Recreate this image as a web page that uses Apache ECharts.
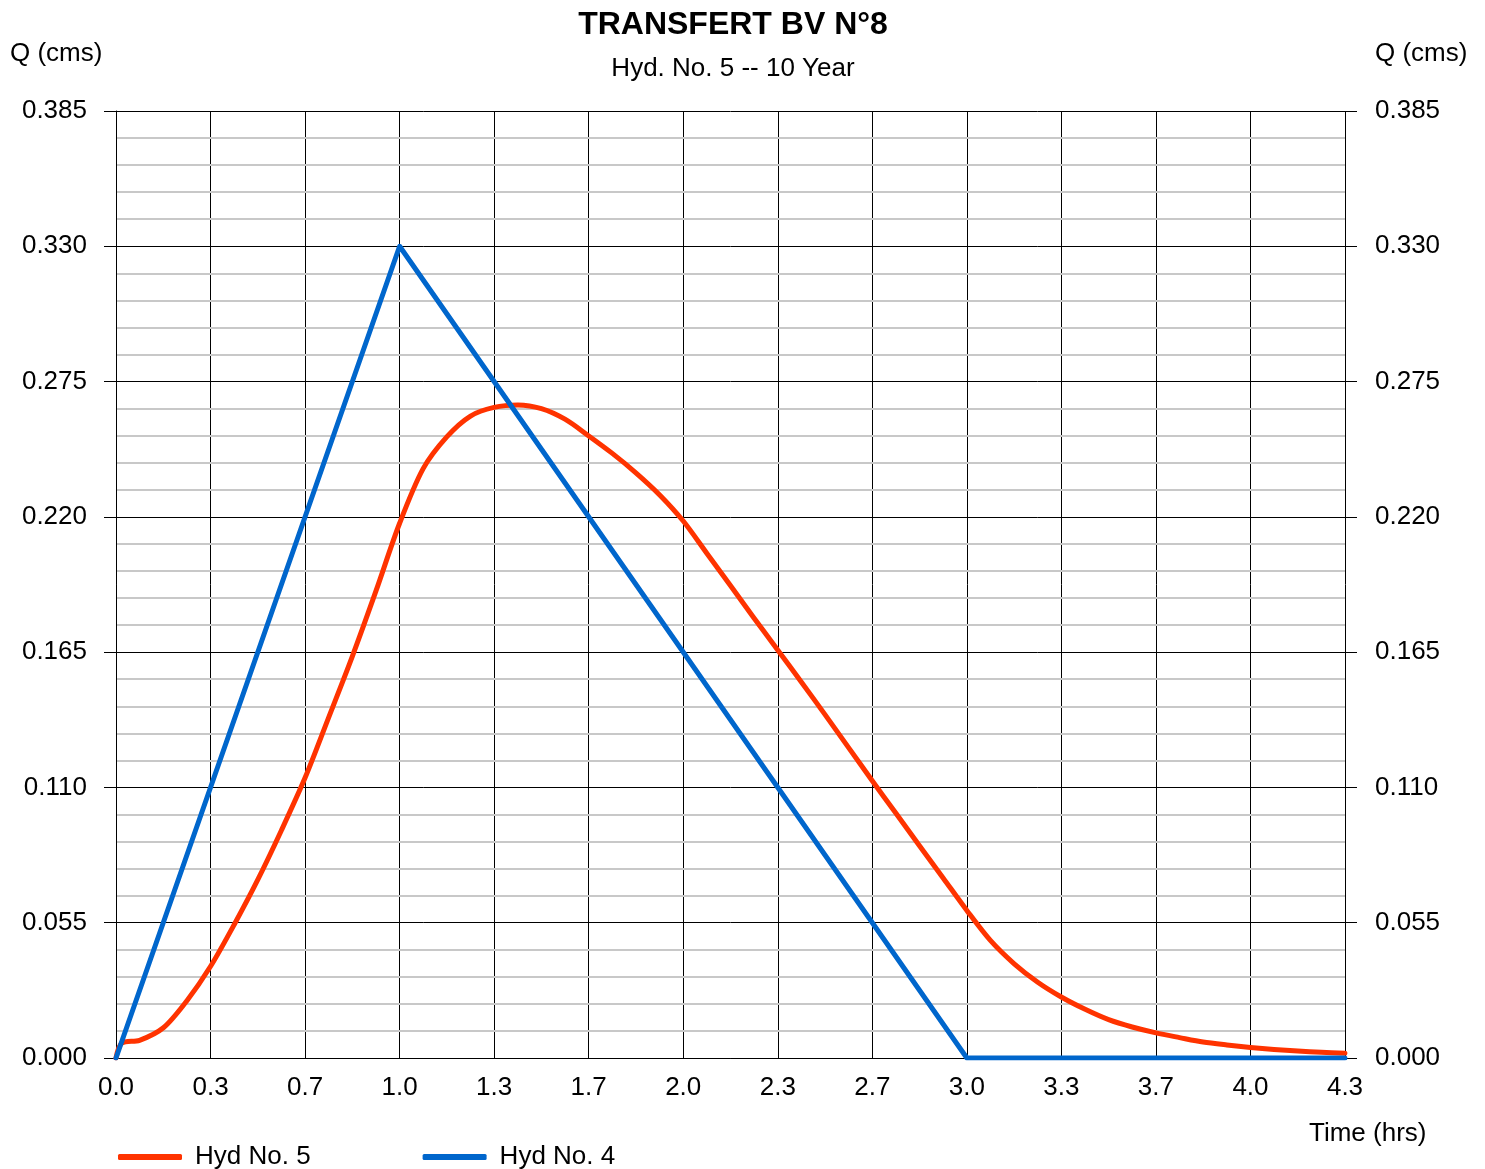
<!DOCTYPE html>
<html>
<head>
<meta charset="utf-8">
<script src="https://cdn.jsdelivr.net/npm/echarts@6/dist/echarts.min.js"></script>
<style>
html,body{margin:0;padding:0;background:#fff;}
#chart{width:1485px;height:1169px;}
</style>
</head>
<body>
<div id="chart"></div>
<script>
// Data (time in hours, flow in cms)
const hyd5Time = [0, 0.020, 0.083, 0.167, 0.250, 0.333, 0.417, 0.500, 0.583, 0.667, 0.750, 0.833, 0.917, 1.000, 1.083, 1.167, 1.250, 1.333, 1.417, 1.500, 1.583, 1.667, 1.750, 1.833, 1.917, 2.000, 2.083, 2.167, 2.250, 2.333, 2.417, 2.500, 2.583, 2.667, 2.750, 2.833, 2.917, 3.000, 3.083, 3.167, 3.250, 3.333, 3.417, 3.500, 3.583, 3.667, 3.750, 3.833, 3.917, 4.000, 4.083, 4.167, 4.250, 4.333];
const hyd5Flow = [0, 0.0060, 0.0072, 0.0123, 0.0233, 0.0372, 0.0543, 0.0725, 0.0925, 0.1140, 0.1385, 0.1632, 0.1900, 0.2174, 0.2396, 0.2526, 0.2610, 0.2645, 0.2655, 0.2640, 0.2597, 0.2529, 0.2458, 0.2379, 0.2289, 0.2183, 0.2052, 0.1920, 0.1788, 0.1659, 0.1528, 0.1396, 0.1262, 0.1126, 0.0995, 0.0863, 0.0731, 0.0600, 0.0478, 0.0383, 0.0308, 0.0248, 0.0198, 0.0156, 0.0126, 0.0102, 0.0083, 0.0065, 0.0053, 0.0043, 0.0035, 0.0028, 0.0023, 0.0019];
const hyd4Time = [0, 1.0, 3.0, 4.333];
const hyd4Flow = [0, 0.330, 0.0, 0.0];
const yTicks = ['0.000','0.055','0.110','0.165','0.220','0.275','0.330','0.385'];
const xTickLabels = ['0.0','0.3','0.7','1.0','1.3','1.7','2.0','2.3','2.7','3.0','3.3','3.7','4.0','4.3'];

const FONT = '"Liberation Sans", Arial, sans-serif';
const toMin = h => h * 60;
const pairs = (t, q) => t.map((v, i) => [toMin(v), q[i]]);

const chart = echarts.init(document.getElementById('chart'), null, {renderer: 'canvas'});
const option = {
  backgroundColor: '#ffffff',
  animation: false,
  textStyle: {fontFamily: FONT},
  title: [
    {text: 'TRANSFERT BV N°8', left: 728, textAlign: 'center', top: 4,
     textStyle: {fontFamily: FONT, fontSize: 32, fontWeight: 'bold', color: '#000'}},
    {text: 'Hyd. No. 5 -- 10 Year', left: 728, textAlign: 'center', top: 51,
     textStyle: {fontFamily: FONT, fontSize: 26, fontWeight: 'normal', color: '#000'}}
  ],
  graphic: [
    {type: 'text', left: 10, top: 41, style: {text: 'Q (cms)', font: '26px ' + FONT, fill: '#000'}},
    {type: 'text', left: 1375, top: 41, style: {text: 'Q (cms)', font: '26px ' + FONT, fill: '#000'}},
    {type: 'text', left: 1309, top: 1121, style: {text: 'Time (hrs)', font: '26px ' + FONT, fill: '#000'}}
  ],
  legend: {
    left: 113, top: 1139, itemWidth: 64, itemHeight: 6, itemGap: 112, icon: 'roundRect',
    data: ['Hyd No. 5', 'Hyd No. 4'],
    textStyle: {fontFamily: FONT, fontSize: 26, color: '#000', padding: [0, 0, 0, 8]}
  },
  grid: {left: 116, right: 140, top: 111, bottom: 111, containLabel: false},
  xAxis: {
    type: 'value', min: 0, max: 260, interval: 20,
    axisLine: {show: true, lineStyle: {color: '#000', width: 1}},
    axisTick: {show: false},
    axisLabel: {margin: 17, fontFamily: FONT, fontSize: 26, color: '#000',
      formatter: v => xTickLabels[Math.round(v / 20)]},
    splitLine: {show: true, lineStyle: {color: '#000', width: 1}}
  },
  yAxis: [
    {
      type: 'value', min: 0, max: 0.385, interval: 0.055, position: 'left',
      axisLine: {show: true, lineStyle: {color: '#000', width: 1}},
      axisTick: {show: true, length: 12, lineStyle: {color: '#000', width: 1}},
      axisLabel: {margin: 29, fontFamily: FONT, fontSize: 26, color: '#000',
        formatter: v => yTicks[Math.round(v / 0.055)]},
      splitLine: {show: true, lineStyle: {color: '#000', width: 1}},
      minorTick: {show: false, splitNumber: 5},
      minorSplitLine: {show: true, lineStyle: {color: '#c8c8c8', width: 2}},
      z: 1
    },
    {
      type: 'value', min: 0, max: 0.385, interval: 0.055, position: 'right',
      axisLine: {show: false},
      axisTick: {show: true, length: 12, lineStyle: {color: '#000', width: 1}},
      axisLabel: {margin: 30, fontFamily: FONT, fontSize: 26, color: '#000',
        formatter: v => yTicks[Math.round(v / 0.055)]},
      splitLine: {show: false}
    }
  ],
  series: [
    {
      name: 'Hyd No. 5', type: 'line', data: pairs(hyd5Time, hyd5Flow),
      smooth: 0.3, symbol: 'none', z: 3,
      lineStyle: {color: '#ff3300', width: 5, cap: 'round', join: 'round'},
      itemStyle: {color: '#ff3300'}
    },
    {
      name: 'Hyd No. 4', type: 'line', data: pairs(hyd4Time, hyd4Flow),
      smooth: false, symbol: 'none', z: 4,
      lineStyle: {color: '#0066cc', width: 5, cap: 'round', join: 'round'},
      itemStyle: {color: '#0066cc'}
    }
  ]
};
chart.setOption(option);
</script>
</body>
</html>
